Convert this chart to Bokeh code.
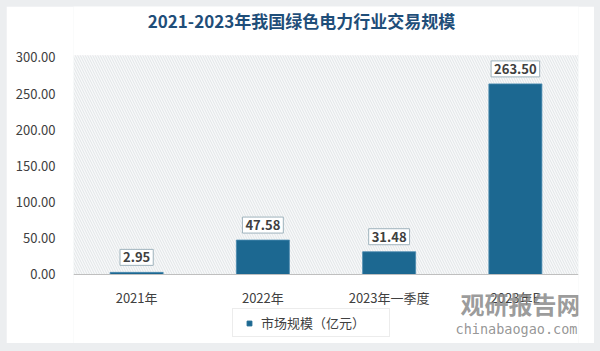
from bokeh.plotting import figure
from bokeh.models import (ColumnDataSource, Label, BoxAnnotation, Legend, LegendItem,
                          FactorRange, Range1d, NumeralTickFormatter, FixedTicker)
from bokeh.layouts import column
from bokeh.embed import file_html
from bokeh.resources import INLINE

categories = ["2021年", "2022年", "2023年一季度", "2023年E"]
values = [2.95, 47.58, 31.48, 263.50]
value_labels = ["2.95", "47.58", "31.48", "263.50"]
y_ticks = [0, 50, 100, 150, 200, 250, 300]
title_text = "2021-2023年我国绿色电力行业交易规模"
legend_text = "市场规模（亿元）"
watermark_cn = "观研报告网"
watermark_en = "chinabaogao.com"

BAR = "#1c6891"
FONT = "Noto Sans CJK SC"

src = ColumnDataSource(dict(cat=categories, val=values, lab=value_labels))

# frame spans the whole card height; x axis pinned at 0
p = figure(width=588, height=337, x_range=FactorRange(*categories, range_padding=0),
           y_range=Range1d(-95.4, 370.5), output_backend="svg", toolbar_location=None,
           min_border_left=67, min_border_right=16, min_border_top=0, min_border_bottom=0)
p.margin = (6, 6, 8, 6)
p.outline_line_color = None
p.background_fill_color = "white"
p.border_fill_color = "white"
p.xgrid.grid_line_color = None
p.ygrid.grid_line_color = None

hatch = BoxAnnotation(bottom=0, top=303, fill_color="#f8f9fa", fill_alpha=1, line_color=None,
                      hatch_pattern="left_diagonal_line", hatch_color="#dcdfe2",
                      hatch_scale=5, hatch_weight=0.8, level="underlay")
p.add_layout(hatch)

r = p.vbar(x="cat", top="val", width=0.42, source=src, fill_color=BAR, line_color="#4a8ab0", line_width=0.8)
# legend-only marker (NaN value: never drawn in the plot itself)
leg_r = p.scatter(x=[categories[0]], y=[float("nan")], marker="square", size=8,
                  fill_color=BAR, line_color=BAR)

p.yaxis.ticker = FixedTicker(ticks=y_ticks)
p.yaxis.formatter = NumeralTickFormatter(format="0.00")
p.yaxis.axis_line_color = None
p.yaxis.major_tick_line_color = None
p.yaxis.minor_tick_line_color = None
p.yaxis.major_label_text_font = FONT
p.yaxis.major_label_text_font_size = "13px"
p.yaxis.major_label_text_color = "#404040"
p.yaxis.major_label_standoff = 12

p.xaxis.fixed_location = 0
p.xaxis.axis_line_color = "#bfbfbf"
p.xaxis.major_tick_line_color = None
p.xaxis.minor_tick_line_color = None
p.xaxis.major_label_text_font = FONT
p.xaxis.major_label_text_font_size = "13px"
p.xaxis.major_label_text_color = "#404040"
p.xaxis.major_label_standoff = 8

for i, (v, t) in enumerate(zip(values, value_labels)):
    p.add_layout(Label(x=i + 0.5, y=v, text=t, text_align="center",
                       text_baseline="bottom", y_offset=7, text_font=FONT, text_font_size="13px",
                       text_font_style="bold", text_color="#404040",
                       background_fill_color="white", border_line_color="#9fb3bd",
                       border_line_width=1, padding=3))

p.add_layout(Label(x=228, y=323, x_units="screen", y_units="screen", text=title_text,
                   text_align="center", text_baseline="middle", text_font=FONT,
                   text_font_size="17px", text_font_style="bold", text_color="#1f4e79"))

legend = Legend(items=[LegendItem(label=legend_text, renderers=[leg_r])], location=(159, 6),
                orientation="horizontal", label_text_font=FONT, label_text_font_size="13px",
                label_text_color="#404040", glyph_width=24, glyph_height=12, label_standoff=0,
                label_width=124, label_height=12, border_line_color="#d9d9d9",
                background_fill_color="white", padding=4, margin=0)
p.add_layout(legend)

p.add_layout(Label(x=387, y=23, x_units="screen", y_units="screen", text=watermark_cn,
                   text_baseline="bottom", text_font=FONT, text_font_size="24px",
                   text_font_style="bold", text_color="#8a8a8a", text_alpha=0.85))
p.add_layout(Label(x=382, y=7, x_units="screen", y_units="screen", text=watermark_en,
                   text_baseline="bottom", text_font="DejaVu Sans Mono", text_font_size="13.5px",
                   text_color="#8a8a8a", text_alpha=0.9))

layout = column(p, styles={"background-color": "#eceef0"}, width=600, height=351)

open("out.html", "w").write(file_html(layout, INLINE))
